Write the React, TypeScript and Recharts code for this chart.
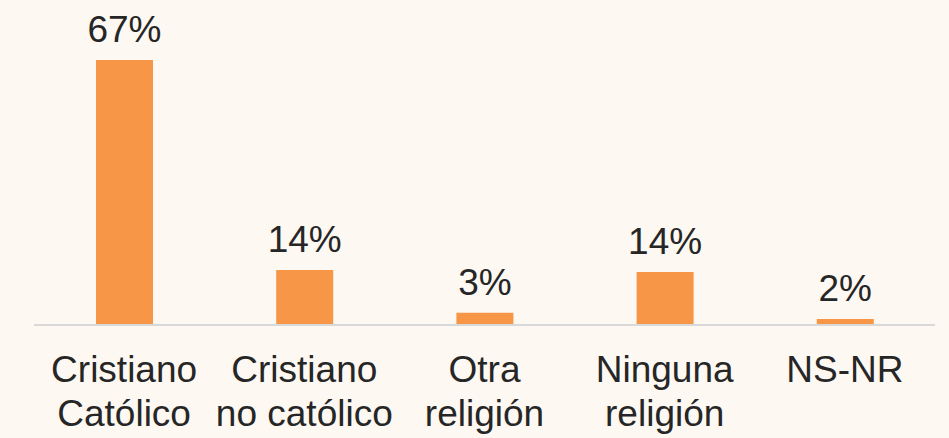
import React from 'react';
import { BarChart, Bar, XAxis, YAxis, LabelList } from 'recharts';

const categories = ['Cristiano\nCatólico', 'Cristiano\nno católico', 'Otra\nreligión', 'Ninguna\nreligión', 'NS-NR'];
const shares = [67, 13.9, 3.1, 13.4, 1.5];
const shareLabels = ['67%', '14%', '3%', '14%', '2%'];

const data = categories.map((name, i) => ({ name, value: shares[i], label: shareLabels[i] }));

const FONT = '"Liberation Sans", Arial, sans-serif';
const TEXT = '#262626';

const CategoryTick = ({ x, y, payload }: any) => {
  const lines = String(payload.value).split('\n');
  return (
    <text x={x} y={y} textAnchor="middle" fill={TEXT} fontSize={37} fontFamily={FONT}>
      {lines.map((line, i) => (
        <tspan key={i} x={x} dy={i === 0 ? 57 : 43.5}>
          {line}
        </tspan>
      ))}
    </text>
  );
};

const App: React.FC = () => {
  return (
    <div style={{ position: 'absolute', left: 0, top: 0, width: 949, height: 438, background: '#FDF8F2' }}>
      <BarChart width={949} height={438} data={data} margin={{ top: 60, right: 14, bottom: 0, left: 34 }}>
        <YAxis hide domain={[0, 67]} />
        <XAxis
          dataKey="name"
          height={113}
          axisLine={{ stroke: '#D9D9D9', strokeWidth: 2 }}
          tickLine={false}
          tickSize={0}
          tickMargin={0}
          interval={0}
          tick={<CategoryTick />}
        />
        <Bar dataKey="value" fill="#F79646" barSize={57} isAnimationActive={false}>
          <LabelList
            dataKey="label"
            position="top"
            offset={18}
            fill={TEXT}
            fontSize={37}
            fontFamily={FONT}
          />
        </Bar>
      </BarChart>
    </div>
  );
};

export default App;
